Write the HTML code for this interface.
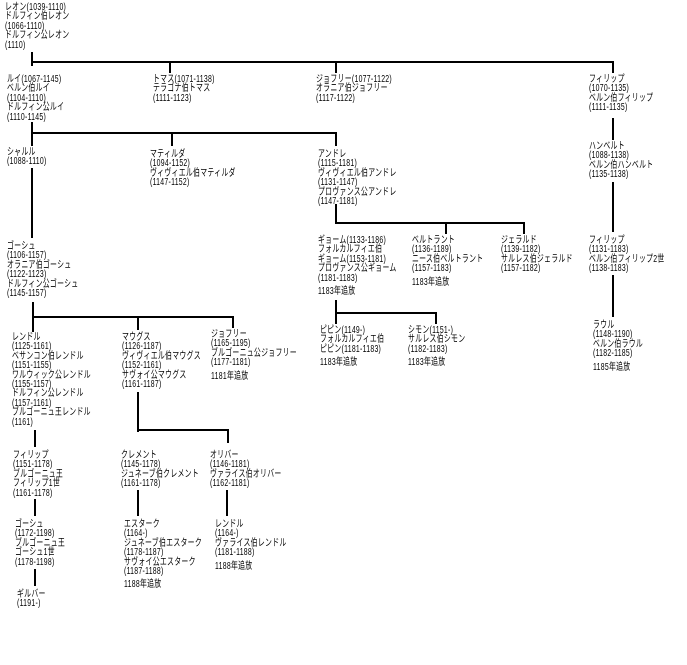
<!DOCTYPE html>
<html><head><meta charset="utf-8"><style>
body{margin:0;width:687px;height:665px;background:#fff;position:relative;overflow:hidden;font-family:"Liberation Sans","Noto Sans CJK JP",sans-serif;font-size:10px;line-height:9.4px;color:#000;letter-spacing:0.4px}
.t{position:absolute;white-space:nowrap;transform:scaleX(0.69);transform-origin:0 0}
.h,.v{position:absolute;background:#000}
.h{height:2px}.v{width:2px}
.x{margin-top:4px;display:block}
</style></head><body>
<div class="t" style="left:5px;top:3px">レオン(1039-1110)<br>ドルフィン伯レオン<br>(1066-1110)<br>ドルフィン公レオン<br>(1110)</div>
<div class="v" style="left:31px;top:52px;height:14px"></div>
<div class="h" style="left:31px;top:61px;width:583px"></div>
<div class="v" style="left:169px;top:61px;height:12px"></div>
<div class="v" style="left:335px;top:61px;height:12px"></div>
<div class="v" style="left:612px;top:61px;height:12px"></div>

<div class="t" style="left:7px;top:75px">ルイ(1067-1145)<br>ベルン伯ルイ<br>(1104-1110)<br>ドルフィン公ルイ<br>(1110-1145)</div>
<div class="t" style="left:153px;top:75px">トマス(1071-1138)<br>テラゴナ伯トマス<br>(1111-1123)</div>
<div class="t" style="left:316px;top:75px">ジョフリー(1077-1122)<br>オラニア伯ジョフリー<br>(1117-1122)</div>
<div class="t" style="left:589px;top:75px">フィリップ<br>(1070-1135)<br>ベルン伯フィリップ<br>(1111-1135)</div>

<div class="v" style="left:31px;top:122px;height:24px"></div>
<div class="h" style="left:31px;top:132px;width:306px"></div>
<div class="v" style="left:171px;top:132px;height:14px"></div>
<div class="v" style="left:335px;top:132px;height:14px"></div>

<div class="t" style="left:7px;top:148px">シャルル<br>(1088-1110)</div>
<div class="t" style="left:150px;top:150px">マティルダ<br>(1094-1152)<br>ヴィヴィエル伯マティルダ<br>(1147-1152)</div>
<div class="t" style="left:318px;top:150px">アンドレ<br>(1115-1181)<br>ヴィヴィエル伯アンドレ<br>(1131-1147)<br>プロヴァンス公アンドレ<br>(1147-1181)</div>
<div class="v" style="left:612px;top:118px;height:22px"></div>
<div class="t" style="left:589px;top:142px">ハンベルト<br>(1088-1138)<br>ベルン伯ハンベルト<br>(1135-1138)</div>
<div class="v" style="left:612px;top:182px;height:50px"></div>
<div class="t" style="left:589px;top:236px">フィリップ<br>(1131-1183)<br>ベルン伯フィリップ2世<br>(1138-1183)</div>
<div class="v" style="left:612px;top:275px;height:42px"></div>
<div class="t" style="left:593px;top:321px">ラウル<br>(1148-1190)<br>ベルン伯ラウル<br>(1182-1185)<span class="x">1185年追放</span></div>

<div class="v" style="left:335px;top:204px;height:20px"></div>
<div class="h" style="left:335px;top:222px;width:190px"></div>
<div class="v" style="left:445px;top:222px;height:12px"></div>
<div class="v" style="left:523px;top:222px;height:12px"></div>
<div class="t" style="left:318px;top:236px">ギョーム(1133-1186)<br>フォルカルフィエ伯<br>ギョーム(1153-1181)<br>プロヴァンス公ギョーム<br>(1181-1183)<span class="x">1183年追放</span></div>
<div class="t" style="left:412px;top:236px">ベルトラント<br>(1136-1189)<br>ニース伯ベルトラント<br>(1157-1183)<span class="x">1183年追放</span></div>
<div class="t" style="left:501px;top:236px">ジェラルド<br>(1139-1182)<br>サルレス伯ジェラルド<br>(1157-1182)</div>
<div class="v" style="left:335px;top:300px;height:24px"></div>
<div class="h" style="left:335px;top:312px;width:102px"></div>
<div class="v" style="left:435px;top:312px;height:12px"></div>
<div class="t" style="left:320px;top:326px">ピピン(1149-)<br>フォルカルフィエ伯<br>ピピン(1181-1183)<span class="x">1183年追放</span></div>
<div class="t" style="left:408px;top:326px">シモン(1151-)<br>サルレス伯シモン<br>(1182-1183)<span class="x">1183年追放</span></div>

<div class="v" style="left:31px;top:168px;height:70px"></div>
<div class="t" style="left:7px;top:242px">ゴーシュ<br>(1106-1157)<br>オラニア伯ゴーシュ<br>(1122-1123)<br>ドルフィン公ゴーシュ<br>(1145-1157)</div>
<div class="v" style="left:32px;top:302px;height:30px"></div>
<div class="h" style="left:32px;top:316px;width:202px"></div>
<div class="v" style="left:137px;top:316px;height:14px"></div>
<div class="v" style="left:232px;top:316px;height:12px"></div>
<div class="t" style="left:12px;top:333px">レンドル<br>(1125-1161)<br>ベサンコン伯レンドル<br>(1151-1155)<br>ワルウィック公レンドル<br>(1155-1157)<br>ドルフィン公レンドル<br>(1157-1161)<br>ブルゴーニュ王レンドル<br>(1161)</div>
<div class="t" style="left:122px;top:333px">マウグス<br>(1126-1187)<br>ヴィヴィエル伯マウグス<br>(1152-1161)<br>サヴォイ公マウグス<br>(1161-1187)</div>
<div class="t" style="left:211px;top:330px">ジョフリー<br>(1165-1195)<br>ブルゴーニュ公ジョフリー<br>(1177-1181)<span class="x">1181年追放</span></div>

<div class="v" style="left:34px;top:430px;height:17px"></div>
<div class="t" style="left:13px;top:451px">フィリップ<br>(1151-1178)<br>ブルゴーニュ王<br>フィリップ1世<br>(1161-1178)</div>
<div class="v" style="left:34px;top:499px;height:17px"></div>
<div class="t" style="left:15px;top:520px">ゴーシュ<br>(1172-1198)<br>ブルゴーニュ王<br>ゴーシュ1世<br>(1178-1198)</div>
<div class="v" style="left:34px;top:569px;height:17px"></div>
<div class="t" style="left:17px;top:590px">ギルバー<br>(1191-)</div>

<div class="v" style="left:137px;top:392px;height:40px"></div>
<div class="h" style="left:137px;top:429px;width:92px"></div>
<div class="v" style="left:227px;top:429px;height:14px"></div>
<div class="t" style="left:121px;top:451px">クレメント<br>(1145-1178)<br>ジュネーブ伯クレメント<br>(1161-1178)</div>
<div class="t" style="left:210px;top:451px">オリバー<br>(1146-1181)<br>ヴァライス伯オリバー<br>(1162-1181)</div>
<div class="v" style="left:137px;top:490px;height:26px"></div>
<div class="v" style="left:226px;top:490px;height:26px"></div>
<div class="t" style="left:124px;top:520px">エスターク<br>(1164-)<br>ジュネーブ伯エスターク<br>(1178-1187)<br>サヴォイ公エスターク<br>(1187-1188)<span class="x">1188年追放</span></div>
<div class="t" style="left:215px;top:520px">レンドル<br>(1164-)<br>ヴァライス伯レンドル<br>(1181-1188)<span class="x">1188年追放</span></div>
</body></html>
